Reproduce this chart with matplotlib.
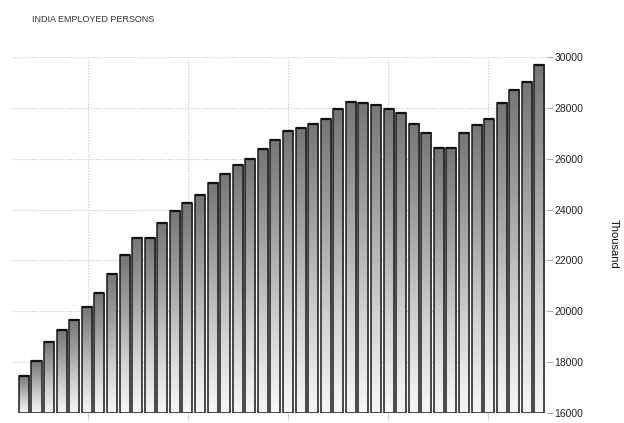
import numpy as np
import matplotlib
matplotlib.use("Agg")
import matplotlib.pyplot as plt
from matplotlib.colors import LinearSegmentedColormap
from matplotlib import font_manager

title = "INDIA EMPLOYED PERSONS"
ylabel = "Thousand"
values = [17470, 18050, 18800, 19260, 19670, 20180, 20700, 21470, 22210, 22900,
          22900, 23480, 23950, 24240, 24580, 25060, 25400, 25750, 25990, 26380,
          26750, 27090, 27190, 27370, 27550, 27950, 28240, 28190, 28120, 27950,
          27780, 27370, 27030, 26440, 26440, 27030, 27330, 27550, 28200, 28720,
          29000, 29700]
yticks = [16000, 18000, 20000, 22000, 24000, 26000, 28000, 30000]

names = {f.name for f in font_manager.fontManager.ttflist}
fam = [n for n in ['Liberation Sans Narrow', 'DejaVu Sans Condensed', 'Liberation Sans', 'DejaVu Sans'] if n in names]
cond = 'DejaVu Sans Condensed' in names or 'Liberation Sans Narrow' in names
tsize = 7 if cond else 6.5
lsize = 8.5 if cond else 7.5

fig = plt.figure(figsize=(6.24, 4.23), dpi=100)
ax = fig.add_axes([12/624, 10/423, (547-12)/624, (413-57)/423])

ymin, ymax = 16000, 30000
x = np.arange(len(values))
w = 0.8
cmap = LinearSegmentedColormap.from_list('g', ['#f7f7f7', '#d0d0d0', '#a0a0a0', '#767676'])
grad = np.linspace(1, 0, 256).reshape(-1, 1)
for xi, v in zip(x, values):
    ax.imshow(grad, extent=[xi - w/2, xi + w/2, ymin, v], aspect='auto',
              cmap=cmap, vmin=0, vmax=1, zorder=2, interpolation='bilinear')
ax.bar(x, [v - ymin for v in values], bottom=ymin, width=w, facecolor='none',
       edgecolor='#1a1a1a', linewidth=1.1, zorder=3)
ax.hlines(values, x - w/2, x + w/2, color='#111111', linewidth=1.6, zorder=4)

ax.set_xlim(-0.95, 41.6)
ax.set_ylim(ymin, ymax)
ax.set_xticks(np.arange(5.1, 42, 7.95))
ax.set_xticklabels([])
ax.set_yticks(yticks)
ax.yaxis.tick_right()
ax.set_yticklabels([str(t) for t in yticks], family=fam, fontsize=lsize, color='#222222')
ax.tick_params(axis='y', length=4, color='#aaaaaa', pad=1.5)
ax.tick_params(axis='x', length=4, color='#cccccc', direction='out')
ax.grid(True, color='#c8c8c8', linestyle=(0, (1, 1.5)), linewidth=0.8, zorder=0)
ax.set_axisbelow(True)
for s in ax.spines.values():
    s.set_visible(False)

fig.text(32/624, 1 - 20/423, title, family=fam, fontsize=tsize, color='#333333',
         va='center', ha='left')
fig.text(614/624, 1 - 244/423, ylabel, family=fam, fontsize=8, color='#111111',
         rotation=270, va='center', ha='center')

fig.savefig('out.png', dpi=100)
